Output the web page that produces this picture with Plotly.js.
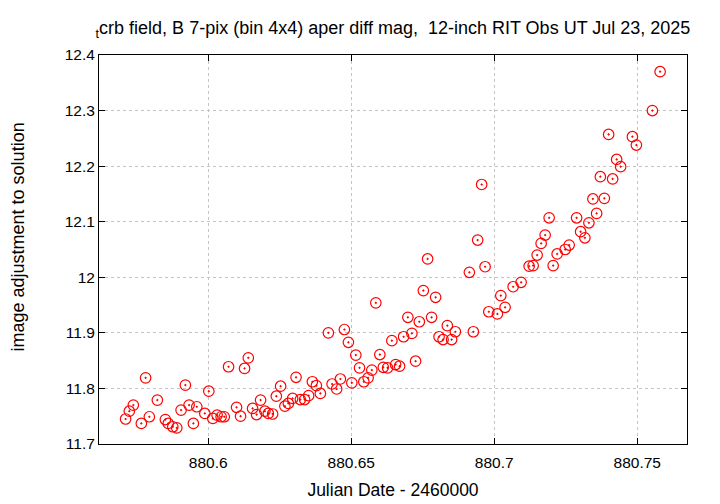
<!DOCTYPE html>
<html>
<head>
<meta charset="utf-8">
<script src="https://cdn.plot.ly/plotly-3.0.1.min.js"></script>
<style>html,body{margin:0;padding:0;background:#fff;}#chart{width:720px;height:504px;}</style>
</head>
<body>
<div id="chart"></div>
<script>
// Julian Date - 2460000
const jd = [
  880.5711, 880.5724, 880.5738, 880.5766, 880.5781, 880.5794, 880.5822, 880.5850, 880.5860, 880.5876,
  880.5890, 880.5905, 880.5920, 880.5933, 880.5948, 880.5960, 880.5988, 880.6002, 880.6016, 880.6031,
  880.6045, 880.6056, 880.6071, 880.6099, 880.6113, 880.6127, 880.6140, 880.6155, 880.6169, 880.6183,
  880.6198, 880.6210, 880.6225, 880.6238, 880.6253, 880.6268, 880.6280, 880.6295, 880.6307, 880.6322,
  880.6337, 880.6351, 880.6364, 880.6378, 880.6392, 880.6420, 880.6433, 880.6449, 880.6462, 880.6476,
  880.6490, 880.6502, 880.6516, 880.6529, 880.6544, 880.6559, 880.6572, 880.6586, 880.6600, 880.6612,
  880.6627, 880.6642, 880.6655, 880.6669, 880.6683, 880.6698, 880.6712, 880.6725, 880.6738, 880.6752,
  880.6767, 880.6781, 880.6795, 880.6807, 880.6821, 880.6836, 880.6851, 880.6864, 880.6913, 880.6927,
  880.6942, 880.6956, 880.6968, 880.6981, 880.7011, 880.7023, 880.7038, 880.7066, 880.7094, 880.7122,
  880.7136, 880.7150, 880.7164, 880.7178, 880.7192, 880.7206, 880.7220, 880.7248, 880.7262, 880.7288,
  880.7302, 880.7317, 880.7331, 880.7345, 880.7358, 880.7371, 880.7385, 880.7400, 880.7414, 880.7428,
  880.7442, 880.7483, 880.7497, 880.7553, 880.7580
];
// image adjustment to solution (mag)
const mag = [
  11.745, 11.759, 11.770, 11.737, 11.819, 11.749, 11.779, 11.744, 11.737, 11.731,
  11.729, 11.761, 11.806, 11.770, 11.737, 11.767, 11.755, 11.795, 11.746, 11.752,
  11.749, 11.749, 11.839, 11.766, 11.750, 11.836, 11.855, 11.764, 11.753, 11.779,
  11.759, 11.755, 11.754, 11.786, 11.804, 11.768, 11.773, 11.782, 11.820, 11.780,
  11.780, 11.787, 11.812, 11.805, 11.791, 11.900, 11.808, 11.799, 11.817, 11.906,
  11.883, 11.810, 11.860, 11.837, 11.812, 11.819, 11.833, 11.954, 11.861, 11.838,
  11.837, 11.886, 11.843, 11.840, 11.893, 11.928, 11.899, 11.849, 11.920, 11.976,
  12.033, 11.928, 11.964, 11.893, 11.888, 11.913, 11.888, 11.902, 12.009, 11.902,
  12.067, 12.167, 12.019, 11.938, 11.934, 11.967, 11.946, 11.983, 11.991, 12.020,
  12.021, 12.040, 12.061, 12.076, 12.107, 12.021, 12.042, 12.050, 12.058, 12.107,
  12.082, 12.071, 12.098, 12.141, 12.115, 12.181, 12.142, 12.257, 12.177, 12.212,
  12.199, 12.253, 12.238, 12.300, 12.370
];
const xTicks = [880.6, 880.65, 880.7, 880.75];
const xTickText = ['880.6', '880.65', '880.7', '880.75'];
const yTicks = [11.7, 11.8, 11.9, 12, 12.1, 12.2, 12.3, 12.4];
const yTickText = ['11.7', '11.8', '11.9', '12', '12.1', '12.2', '12.3', '12.4'];
const yLabel = 'image adjustment to solution';

const FONT = 'Liberation Sans, Arial, Helvetica, sans-serif';

const trace = {
  x: jd, y: mag, type: 'scatter', mode: 'markers',
  marker: { symbol: 'circle-open-dot', size: 10.5, color: '#ff0000', line: { color: '#ff0000', width: 1.2 } },
  showlegend: false, hoverinfo: 'skip'
};

const axisCommon = {
  showline: true, linecolor: '#000', linewidth: 1, mirror: 'allticks',
  ticks: 'inside', ticklen: 6, tickcolor: '#000', tickwidth: 1,
  showgrid: true, gridcolor: '#c4c4c4', griddash: 'dot', gridwidth: 1,
  zeroline: false, tickfont: { family: FONT, size: 15.5, color: '#000' }
};

const layout = {
  width: 720, height: 504,
  margin: { l: 99, r: 33, t: 55, b: 60 },
  paper_bgcolor: '#fff', plot_bgcolor: '#fff',
  title: {
    text: '<sub>t</sub>crb field, B 7-pix (bin 4x4) aper diff mag,\u00a0\u00a012-inch RIT Obs UT Jul 23, 2025',
    font: { family: FONT, size: 18, color: '#000' },
    x: 0.5, xref: 'paper', xanchor: 'center', y: 0.945, yref: 'container', yanchor: 'middle'
  },
  xaxis: Object.assign({}, axisCommon, {
    range: [880.5618, 880.7674], tickmode: 'array', tickvals: xTicks, ticktext: xTickText,
    ticklabelstandoff: 4,
    title: { text: 'Julian Date - 2460000', font: { family: FONT, size: 17.5, color: '#000' }, standoff: 14 }
  }),
  yaxis: Object.assign({}, axisCommon, {
    range: [11.7, 12.4], tickmode: 'array', tickvals: yTicks, ticktext: yTickText
  }),
  annotations: [{
    text: yLabel, textangle: -90, showarrow: false,
    xref: 'paper', yref: 'paper', x: -0.1378, y: 0.5334, xanchor: 'center', yanchor: 'middle',
    font: { family: FONT, size: 18, color: '#000' }
  }]
};

Plotly.newPlot('chart', [trace], layout, { staticPlot: true, displayModeBar: false });
</script>
</body>
</html>
